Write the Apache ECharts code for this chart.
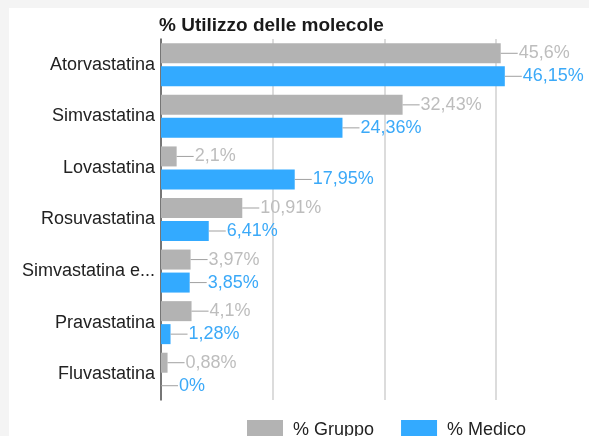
<!DOCTYPE html>
<html>
<head>
<meta charset="utf-8">
<script src="https://cdn.jsdelivr.net/npm/echarts@6/dist/echarts.min.js"></script>
<style>
  html, body { margin: 0; padding: 0; background: #f4f4f4; }
  #panel { position: absolute; left: 9px; top: 8px; width: 580px; height: 428px; background: #fff; }
  #chart { position: absolute; left: 0; top: 0; width: 589px; height: 436px; }
</style>
</head>
<body>
<div id="panel"></div>
<div id="chart"></div>
<script>
// dati
const molecole = ['Atorvastatina', 'Simvastatina', 'Lovastatina', 'Rosuvastatina',
                  'Simvastatina ezetimibe', 'Pravastatina', 'Fluvastatina'];
const gruppo = [45.6, 32.43, 2.1, 10.91, 3.97, 4.1, 0.88];
const medico = [46.15, 24.36, 17.95, 6.41, 3.85, 1.28, 0];
const nomiSerie = ['% Gruppo', '% Medico'];

const GRIGIO = '#b3b3b3';
const BLU = '#33aaff';

// 45.6 -> "45,6%"
function fmt(v) {
    return String(v).replace('.', ',') + '%';
}

function makeLabel(color) {
    return {
        show: true,
        position: 'right',
        distance: 0,
        formatter: p => '{l|}{v|' + fmt(p.value) + '}',
        rich: {
            l: { width: 17, height: 1, backgroundColor: '#a0a0a0' },
            v: { fontSize: 18, color: color, fontFamily: 'Liberation Sans, Arial, sans-serif', padding: [0, 0, 0, 1] }
        }
    };
}

let chart = echarts.init(document.getElementById('chart'));
chart.setOption({
    animation: false,
    textStyle: { fontFamily: 'Liberation Sans, Arial, sans-serif' },
    title: {
        text: '% Utilizzo delle molecole',
        left: 154,
        top: 11,
        textStyle: { fontSize: 19, fontWeight: 'bold', color: '#1a1a1a' }
    },
    legend: {
        data: nomiSerie,
        left: 242,
        top: 415,
        icon: 'rect',
        itemWidth: 36,
        itemHeight: 20,
        itemGap: 27,
        textStyle: { fontSize: 18, color: '#222', padding: [0, 0, 0, 5] }
    },
    grid: { left: 161, top: 39, right: 0, height: 361, containLabel: false },
    xAxis: {
        type: 'value',
        min: 0,
        max: 57.45,
        interval: 15,
        axisLabel: { show: false },
        axisLine: { show: false },
        axisTick: { show: false },
        splitLine: { showMaxLine: false, lineStyle: { color: '#d0d0d0', width: 1.5 } }
    },
    yAxis: {
        type: 'category',
        data: molecole,
        inverse: true,
        axisTick: { show: false },
        axisLine: { lineStyle: { color: '#555', width: 1.5 } },
        axisLabel: {
            fontSize: 18, color: '#222', margin: 6,
            width: 136, overflow: 'truncate', ellipsis: '...'
        }
    },
    series: [{
        name: nomiSerie[0],
        type: 'bar',
        data: gruppo,
        barWidth: 20,
        barGap: '15%',
        itemStyle: { color: GRIGIO },
        label: makeLabel('#bdbdbd')
    }, {
        name: nomiSerie[1],
        type: 'bar',
        data: medico,
        barWidth: 20,
        itemStyle: { color: BLU },
        label: makeLabel('#3ba9f8')
    }]
});

window.onresize = function () {
    chart.resize();
};
</script>
</body>
</html>
